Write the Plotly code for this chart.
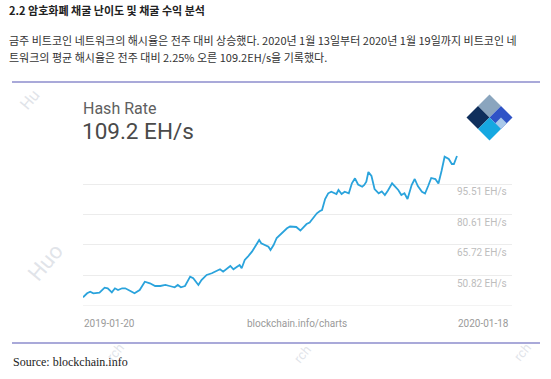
import pandas as pd
import plotly.graph_objects as go

# ---------------- data ----------------
start_date = "2019-01-20"
end_date = "2020-01-18"
day_offsets = [0, 4, 7, 10, 16, 21, 24, 28, 31, 34, 38, 41, 46, 50, 55, 60, 65, 70, 75, 80,
               84, 89, 92, 95, 99, 104, 107, 112, 115, 120, 125, 130, 133, 136, 139, 143, 146, 149, 152, 154,
               157, 160, 164, 167, 171, 173, 177, 180, 182, 185, 188, 191, 194, 198, 201, 204, 207, 211, 214, 217,
               220, 223, 227, 230, 232, 235, 238, 241, 244, 246, 248, 251, 254, 258, 261, 264, 267, 271, 273, 275,
               277, 280, 283, 287, 290, 293, 296, 300, 303, 306, 309, 312, 315, 319, 322, 325, 329, 332, 335, 338,
               342, 345, 348, 351, 355, 358, 360, 363]
hash_rate = [40.17, 42.13, 42.91, 42.13, 42.42, 44.86, 44.57, 42.62, 44.57, 43.74, 44.57, 44.57, 43.25, 42.13, 43.74, 47.79, 47.01, 45.69, 45.69, 46.18,
             45.69, 45.06, 46.18, 45.06, 45.69, 50.24, 49.45, 46.18, 48.62, 51.07, 51.90, 53.17, 53.85, 52.68, 53.85, 55.46, 53.85, 54.83, 55.95, 54.34,
             58.39, 60.00, 62.45, 64.89, 68.16, 66.55, 65.72, 64.89, 63.28, 65.72, 69.14, 70.60, 72.21, 73.87, 74.75, 74.66, 74.51, 72.80, 74.51, 75.97,
             76.71, 78.90, 81.20, 82.32, 82.81, 88.18, 90.97, 91.75, 91.11, 90.63, 92.58, 90.63, 91.75, 90.97, 95.85, 98.29, 95.27, 94.19, 95.02, 96.63,
             101.37, 99.42, 93.07, 90.97, 91.85, 90.14, 92.34, 95.85, 94.19, 92.58, 90.14, 90.97, 88.18, 95.02, 97.95, 94.53, 91.75, 90.87, 94.53, 98.44,
             97.95, 95.75, 101.86, 108.84, 107.72, 105.28, 105.28, 109.20]
grid_values = [50.82, 65.72, 80.61, 95.51]
baseline_value = 35.92
current_value_label = "109.2 EH/s"
date_labels = [start_date, "blockchain.info/charts", end_date]

title_text = "2.2 암호화폐 채굴 난이도 및 채굴 수익 분석"
para_line1 = "금주 비트코인 네트워크의 해시율은 전주 대비 상승했다. 2020년 1월 13일부터 2020년 1월 19일까지 비트코인 네"
para_line2 = "트워크의 평균 해시율은 전주 대비 2.25% 오른 109.2EH/s을 기록했다."
source_text = "Source: blockchain.info"

dates = pd.Timestamp(start_date) + pd.to_timedelta(day_offsets, unit="D")

# ---------------- layout helpers ----------------
W, H = 551, 379


def X(px):
    return px / W


def Y(py):
    return 1 - py / H


fig = go.Figure()
fig.add_trace(go.Scatter(x=dates, y=hash_rate, mode="lines",
                         line=dict(color="#2aa3dc", width=1.8), hoverinfo="skip"))

x_end = pd.Timestamp(start_date) + pd.Timedelta(days=416.4)
ann = []
shapes = []

# y labels
for v in grid_values:
    ann.append(dict(text=f"{v:.2f} EH/s", x=X(509), xref="paper", y=v, yref="y",
                    xanchor="right", yanchor="middle", yshift=-8, showarrow=False,
                    font=dict(family="Roboto", size=10, color="#bdbdbd")))

# bottom date labels
ann.append(dict(text=date_labels[0], x=X(82), y=Y(323), xanchor="left", yanchor="middle",
                font=dict(family="Roboto", size=10, color="#9a9a9a")))
ann.append(dict(text=date_labels[1], x=X(297), y=Y(323), xanchor="center", yanchor="middle",
                font=dict(family="Roboto", size=10, color="#9a9a9a")))
ann.append(dict(text=date_labels[2], x=X(511), y=Y(323), xanchor="right", yanchor="middle",
                font=dict(family="Roboto", size=10, color="#9a9a9a")))

# header texts
ann.append(dict(text="Hash Rate", x=X(81), y=Y(108), xanchor="left", yanchor="middle",
                font=dict(family="Roboto", size=16, color="#606060")))
ann.append(dict(text=current_value_label, x=X(80), y=Y(131), xanchor="left", yanchor="middle",
                font=dict(family="Roboto", size=22.5, color="#4a4a4a")))

# page texts
ann.append(dict(text="<b>" + title_text + "</b>", x=X(7), y=Y(10), xanchor="left", yanchor="middle",
                font=dict(family="Noto Sans CJK KR", size=11, color="#222222")))
ann.append(dict(text=para_line1, x=X(7), y=Y(40), xanchor="left", yanchor="middle",
                font=dict(family="Noto Sans CJK KR", size=11, color="#333333")))
ann.append(dict(text=para_line2, x=X(7), y=Y(57), xanchor="left", yanchor="middle",
                font=dict(family="Noto Sans CJK KR", size=11, color="#333333")))
ann.append(dict(text=source_text, x=X(11), y=Y(362), xanchor="left", yanchor="middle",
                font=dict(family="Liberation Serif", size=12, color="#222222")))

# faint watermarks
for (tx, px, py, sz) in [("Huo", 45, 262, 22), ("Hu", 30, 100, 16), ("rch", 115, 352, 13),
                         ("rch", 302, 354, 13), ("rch", 522, 352, 13)]:
    ann.append(dict(text=tx, x=X(px), y=Y(py), xanchor="center", yanchor="middle", textangle=-50,
                    font=dict(family="Roboto", size=sz, color="rgba(200,205,215,0.55)")))

for a in ann:
    a.setdefault("xref", "paper")
    a.setdefault("yref", "paper")
    a["showarrow"] = False

# purple separator lines
for py in (82, 343):
    shapes.append(dict(type="line", xref="paper", yref="paper", x0=X(12), x1=X(540), y0=Y(py), y1=Y(py),
                       line=dict(color="#a9a9d9", width=2)))

# baseline
shapes.append(dict(type="line", xref="paper", yref="y", x0=X(83), x1=X(512), y0=baseline_value,
                   y1=baseline_value, line=dict(color="#e6e6e6", width=1)))

# blockchain logo (diamond made of pieces)
top = (489.5, 94.5)
du = (23, 23)
dv = (-23, 23)


def uv(u, v):
    px = top[0] + u * du[0] + v * dv[0]
    py = top[1] + u * du[1] + v * dv[1]
    return X(px), Y(py)


def quad(u0, u1, v0, v1):
    pts = [uv(u0, v0), uv(u1, v0), uv(u1, v1), uv(u0, v1)]
    return "M " + " L ".join(f"{a:.5f},{b:.5f}" for a, b in pts) + " Z"


pieces = [((0, 0.5, 0, 0.5), "#8aa5be"),
          ((0, 0.5, 0.5, 1), "#0f2f5c"),
          ((0.5, 1, 0, 0.5), "#2f53c6"),
          ((0.75, 1, 0.25, 0.5), "#a9c9ea"),
          ((0.5, 1, 0.5, 1), "#16a8e1")]
for (u0, u1, v0, v1), col in pieces:
    shapes.append(dict(type="path", xref="paper", yref="paper", path=quad(u0, u1, v0, v1),
                       fillcolor=col, line=dict(width=0)))

fig.update_layout(
    width=W, height=H, margin=dict(l=0, r=0, t=0, b=0),
    paper_bgcolor="white", plot_bgcolor="rgba(0,0,0,0)", showlegend=False,
    xaxis=dict(domain=[X(83), X(512)], range=[pd.Timestamp(start_date), x_end],
               showgrid=False, showticklabels=False, zeroline=False, showline=False, fixedrange=True),
    yaxis=dict(domain=[Y(306), Y(145)], range=[baseline_value, 114.56],
               tickvals=grid_values, showgrid=True, gridcolor="#ececec", gridwidth=1,
               showticklabels=False, zeroline=False, showline=False, fixedrange=True),
    annotations=ann, shapes=shapes,
)

fig.write_html("out.html", config={"displayModeBar": False},
               post_script="document.body.style.margin='0';document.body.style.overflow='hidden';")
